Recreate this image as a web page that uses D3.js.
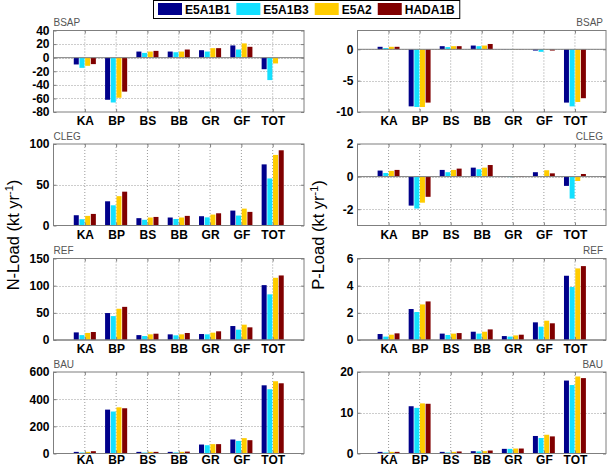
<!DOCTYPE html>
<html><head><meta charset="utf-8">
<script src="https://cdn.jsdelivr.net/npm/d3@7/dist/d3.min.js"></script>
<style>body{margin:0;background:#fff}svg{display:block}</style>
</head><body><svg id="c" width="609" height="467"></svg>
<script>
const categories = ["KA","BP","BS","BB","GR","GF","TOT"];
const scenarios = ["E5A1B1","E5A1B3","E5A2","HADA1B"];
const colors = ["#00008B","#14E0FF","#FFCC00","#800000"];
const panelTitles = ["BSAP","CLEG","REF","BAU"];

// N-Load (kt/yr) — rows: E5A1B1, E5A1B3, E5A2, HADA1B
const nBSAP = [[-10,-62,9,9,11,18,-17],[-15,-66,7,8,9,12,-33],[-12,-59,9,9,14,21,-8.5],[-9.5,-50,10,12,14,16,0]];
const nCLEG = [[12.6,29.7,9,9.8,11.4,18.3,75],[7.7,24.8,7,8,10,12.2,57.7],[11.8,36,9.8,9.8,13.4,20.7,86.6],[14.2,41.5,10.5,11.8,15,16.7,92.3]];
const nREF  = [[14,49.6,9,10.4,11,25.7,101],[9,44,7.3,8.6,10.4,19,84],[13,57.5,10.4,10.4,13.5,28.2,114.5],[14.7,61,11.6,12.9,16,23.3,118.8]];
const nBAU  = [[12,323,12,12,66,103,502],[7,309,7,8,61,93,473],[12,340,12,12,69,113,532],[17,333,12,14,69,98,517]];
// P-Load (kt/yr)
const pBSAP = [[0.4,-9.1,0.5,0.6,0.02,-0.2,-8.5],[0.2,-9.2,0.35,0.5,0.02,-0.4,-9.1],[0.4,-9.2,0.5,0.6,0.02,-0.05,-8.4],[0.4,-8.5,0.5,0.85,0.02,-0.2,-7.8]];
const pCLEG = [[0.37,-1.78,0.41,0.55,0.01,0.27,-0.57],[0.22,-1.96,0.27,0.45,-0.03,0.01,-1.35],[0.35,-1.6,0.41,0.55,0.01,0.39,-0.27],[0.41,-1.24,0.49,0.71,0.03,0.2,0.16]];
const pREF  = [[0.44,2.28,0.47,0.61,0.29,1.3,4.73],[0.25,2.06,0.37,0.47,0.25,0.98,3.9],[0.39,2.62,0.47,0.61,0.34,1.42,5.27],[0.49,2.84,0.51,0.78,0.39,1.23,5.44]];
const pBAU  = [[0.4,11.6,0.4,0.57,1.14,4.3,17.9],[0.25,11.2,0.25,0.5,1.14,3.8,16.8],[0.4,12.3,0.4,0.57,1.22,4.6,18.9],[0.4,12.2,0.5,0.73,1.22,4.2,18.5]];

// axis domains and tick labels
const nDomains = [[-80,40],[0,100],[0,150],[0,600]];
const nTicks = [[-80,-60,-40,-20,0,20,40],[0,50,100],[0,50,100,150],[0,200,400,600]];
const pDomains = [[-10,3],[-3,2],[0,6],[0,20]];
const pTicks = [[-10,-5,0],[-2,0,2],[0,2,4,6],[0,10,20]];

const nData = [nBSAP,nCLEG,nREF,nBAU];
const pData = [pBSAP,pCLEG,pREF,pBAU];

const svg = d3.select("#c");
svg.append("rect").attr("width",609).attr("height",467).attr("fill","#fff");

const rowTops = [30.5,144,258.5,372];
const rowH = 81.5;
const cols = [{x0:53.5,x1:304,data:nData,dom:nDomains,ticks:nTicks,titleRight:false},
              {x0:357.5,x1:606,data:pData,dom:pDomains,ticks:pTicks,titleRight:true}];
const axisColor = "#7f7f7f";
const gridColor = "#9a9a9a";
const FONT = "Arial, 'Liberation Sans', sans-serif";

cols.forEach(col => {
  col.data.forEach((series, r) => {
    const top = rowTops[r], bot = top + rowH;
    const x = d3.scaleLinear().domain([0,8]).range([col.x0,col.x1]);
    const y = d3.scaleLinear().domain(col.dom[r]).range([bot,top]);
    const g = svg.append("g");
    const step = x(1)-x(0);
    const groupW = step*4/5.5;
    const sp = groupW/4;
    const bw = sp*0.88;
    // grid
    categories.forEach((c,i)=>{
      g.append("line").attr("x1",x(i+1)).attr("x2",x(i+1)).attr("y1",top).attr("y2",bot)
        .attr("stroke",gridColor).attr("stroke-width",1).attr("stroke-dasharray","1,2");
    });
    col.ticks[r].forEach(t=>{
      if (t===col.dom[r][0]||t===col.dom[r][1]) return;
      g.append("line").attr("x1",col.x0).attr("x2",col.x1).attr("y1",Math.round(y(t))+0.5).attr("y2",Math.round(y(t))+0.5)
        .attr("stroke",gridColor).attr("stroke-width",1).attr("stroke-dasharray","1,2");
    });
    // bars
    series.forEach((vals,s)=>{
      g.selectAll(null).data(vals).enter().append("rect")
        .attr("x",(d,i)=>x(i+1)-groupW/2+s*sp+(sp-bw)/2)
        .attr("width",bw)
        .attr("y",d=>Math.min(y(d),y(0)))
        .attr("height",d=>Math.abs(y(d)-y(0)))
        .attr("fill",colors[s]);
    });
    // baseline
    g.append("line").attr("x1",col.x0).attr("x2",col.x1).attr("y1",y(0)).attr("y2",y(0))
      .attr("stroke",axisColor).attr("stroke-width",1);
    // box
    g.append("rect").attr("x",col.x0).attr("y",top).attr("width",col.x1-col.x0).attr("height",rowH)
      .attr("fill","none").attr("stroke",axisColor).attr("stroke-width",1);
    // y axis
    const ya = d3.axisLeft(y).tickValues(col.ticks[r]).tickSize(-3).tickPadding(4).tickFormat(d3.format("d"));
    const yg = g.append("g").attr("transform",`translate(${col.x0},0)`).call(ya);
    yg.select(".domain").remove();
    yg.selectAll("line").attr("stroke",axisColor);
    yg.selectAll("text").attr("font-family",FONT).attr("font-size",12)
      .attr("font-weight","bold").attr("fill","#000").text(d=>d<0?"-"+Math.abs(d):d);
    const yr = d3.axisRight(y).tickValues(col.ticks[r]).tickSize(-3).tickFormat("");
    const yrg = g.append("g").attr("transform",`translate(${col.x1},0)`).call(yr);
    yrg.select(".domain").remove(); yrg.selectAll("line").attr("stroke",axisColor);
    // x axis
    const pad = r===3 ? 2 : 4.5;
    const xa = d3.axisBottom(x).tickValues(d3.range(1,8)).tickSize(-3).tickPadding(pad).tickFormat(i=>categories[i-1]);
    const xg = g.append("g").attr("transform",`translate(0,${bot})`).call(xa);
    xg.select(".domain").remove();
    xg.selectAll("line").attr("stroke",axisColor);
    xg.selectAll("text").attr("font-family",FONT).attr("font-size",12)
      .attr("font-weight","bold").attr("fill","#000");
    const xt = d3.axisTop(x).tickValues(d3.range(1,8)).tickSize(-3).tickFormat("");
    const xtg = g.append("g").attr("transform",`translate(0,${top})`).call(xt);
    xtg.select(".domain").remove(); xtg.selectAll("line").attr("stroke",axisColor);
    // title
    g.append("text").attr("x",col.titleRight?603:col.x0).attr("y",top-4.5)
      .attr("text-anchor",col.titleRight?"end":"start")
      .attr("font-family",FONT).attr("font-size",10).attr("fill","#555")
      .text(panelTitles[r]);
  });
});

// y labels
function ylabel(xc, txt){
  const t = svg.append("text").attr("transform",`translate(${xc},235) rotate(-90)`).attr("text-anchor","middle")
    .attr("font-family",FONT).attr("font-size",16.5).attr("fill","#000");
  t.append("tspan").text(txt+" (kt yr");
  t.append("tspan").attr("baseline-shift","super").attr("font-size",11).text("-1");
  t.append("tspan").text(")");
}
ylabel(19,"N-Load");
ylabel(324,"P-Load");

// legend
const lg = svg.append("g");
const box = lg.append("rect").attr("x",153.5).attr("y",0.5).attr("height",18).attr("fill","#fff").attr("stroke","#000").attr("stroke-width",1);
let lx = 158;
scenarios.forEach((s,i)=>{
  lg.append("rect").attr("x",lx).attr("y",3).attr("width",24).attr("height",12).attr("fill",colors[i]);
  const t = lg.append("text").attr("x",lx+27).attr("y",14).attr("font-family",FONT)
    .attr("font-size",12).attr("font-weight","bold").attr("fill","#000").text(s);
  lx += 27 + t.node().getComputedTextLength() + 6;
});
box.attr("width",lx-153.5-1);
</script></body></html>
